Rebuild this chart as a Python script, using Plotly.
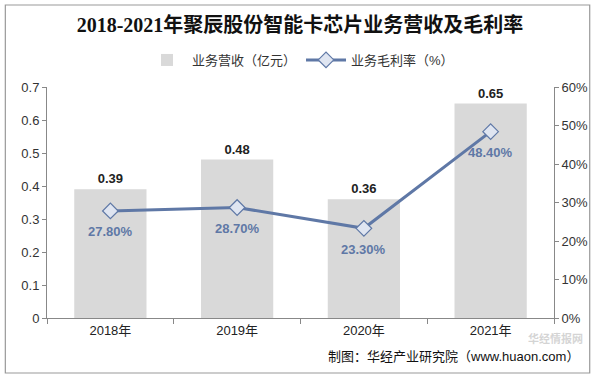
import plotly.graph_objects as go

categories = ["2018年", "2019年", "2020年", "2021年"]
revenue = [0.39, 0.48, 0.36, 0.65]
margin = [0.278, 0.287, 0.233, 0.484]
margin_labels = ["27.80%", "28.70%", "23.30%", "48.40%"]
revenue_labels = ["0.39", "0.48", "0.36", "0.65"]

line_color = "#5f78a6"
font_cjk = "Liberation Sans, Noto Sans CJK SC"

fig = go.Figure()
fig.add_trace(go.Bar(
    x=categories, y=revenue, name="业务营收（亿元）",
    marker=dict(color="#d9d9d9", line=dict(width=0)),
    width=0.57,
    text=revenue_labels, textposition="outside",
    textfont=dict(size=13, color="#222", family="Liberation Sans", weight="bold"),
    cliponaxis=False,
))
fig.add_trace(go.Scatter(
    x=categories, y=margin, name="业务毛利率（%）", yaxis="y2",
    mode="lines+markers",
    line=dict(color=line_color, width=3),
    marker=dict(symbol="diamond", size=12, color="#dfe5f1",
                line=dict(color=line_color, width=1.2)),
    cliponaxis=False,
))
for c, v, t in zip(categories, margin, margin_labels):
    fig.add_annotation(x=c, y=v, xref="x", yref="y2", text=t, showarrow=False,
                       yshift=-21,
                       font=dict(size=13, color=line_color, family="Liberation Sans",
                                 weight="bold"))

L, R, T, B = 47, 558, 87, 318
W, H = R - L, B - T

def px(x):
    return (x - L) / W

def py(y):
    return (B - y) / H

fig.update_layout(
    width=600, height=378,
    margin=dict(l=L, r=600 - R, t=T, b=378 - B),
    paper_bgcolor="white", plot_bgcolor="white",
    font=dict(family=font_cjk, size=13, color="#333"),
    title=dict(text="<b>2018-2021年聚辰股份智能卡芯片业务营收及毛利率</b>",
               x=0.5, xanchor="center", y=1 - 25 / 378, yanchor="middle",
               font=dict(family="Liberation Serif, Noto Sans CJK SC", size=20, color="#111")),
    legend=dict(orientation="h", x=0.5, xanchor="center", y=py(60), yanchor="middle",
                font=dict(size=13, color="#333"), itemwidth=40, traceorder="normal"),
    bargap=0.43,
    xaxis=dict(showline=True, linecolor="#888", linewidth=1, ticks="outside",
               tickson="boundaries", ticklen=5, tickcolor="#888",
               tickfont=dict(size=13, color="#222")),
    yaxis=dict(range=[0, 0.7], showgrid=False, showline=True,
               linecolor="#888", ticks="outside", ticklen=4, tickcolor="#888",
               tickvals=[0, 0.1, 0.2, 0.3, 0.4, 0.5, 0.6, 0.7],
               ticktext=["0", "0.1", "0.2", "0.3", "0.4", "0.5", "0.6", "0.7"],
               tickfont=dict(size=13, color="#333"), zeroline=False),
    yaxis2=dict(range=[0, 0.6], dtick=0.1, overlaying="y", side="right",
                showgrid=False, showline=True, linecolor="#888", ticks="outside",
                ticklen=4, tickcolor="#888", tickformat=".0%",
                tickfont=dict(size=13, color="#333"), zeroline=False),
)

fig.add_shape(type="rect", xref="paper", yref="paper",
              x0=px(5), x1=px(594), y0=py(373), y1=py(5),
              line=dict(color="#999", width=1.2), fillcolor="rgba(0,0,0,0)", layer="below")

fig.add_annotation(text="<b>华经情报网</b>", xref="paper", yref="paper",
                   x=px(588), y=py(338), xanchor="right", yanchor="middle", showarrow=False,
                   borderpad=0,
                   font=dict(size=11, color="rgba(170,170,170,0.5)", family="Noto Sans CJK SC"))
fig.add_annotation(text="制图：华经产业研究院（www.huaon.com）", xref="paper", yref="paper",
                   x=px(585), y=py(356), xanchor="right", yanchor="middle", showarrow=False,
                   font=dict(size=13, color="#111", family=font_cjk))

fig.write_html("out.html")
